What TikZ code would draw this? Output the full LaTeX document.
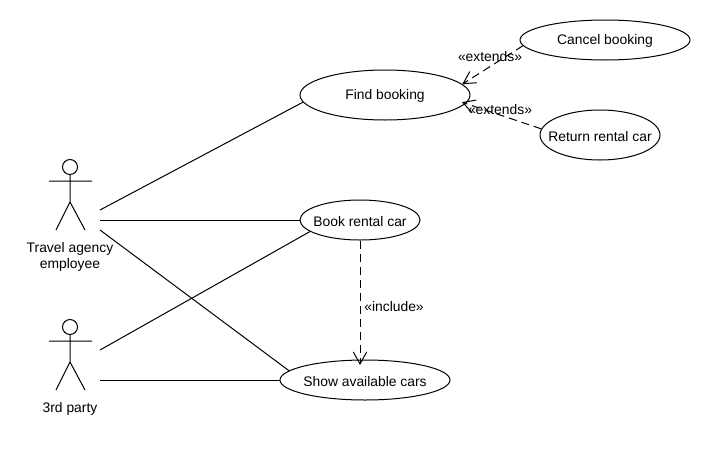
\documentclass[tikz,border=0pt]{standalone}
\usepackage{amssymb}
\usepackage{amsmath}
\usepackage{fontspec}
\setmainfont{Liberation Sans}
\usetikzlibrary{arrows.meta,shapes.geometric}

\tikzset{
  usecase/.style={draw,ellipse,inner sep=0pt,line width=0.75pt},
  lbl/.style={inner sep=0pt,align=center,yshift=-1pt,font=\fontsize{10.4}{12}\selectfont},
  assoc/.style={line width=0.75pt},
  depend/.style={line width=0.75pt,dash pattern=on 6pt off 3.75pt,-{Straight Barb[length=9pt,width=10pt,line width=0.75pt]}}
}

\begin{document}
\begin{tikzpicture}[x=0.75pt,y=0.75pt,yscale=-1,xscale=1]
\useasboundingbox (0,0) rectangle (710,450);

%Shape: Use cases
\node[usecase,minimum width=127.5pt,minimum height=37.5pt,label={[lbl]center:Find booking}] (find) at (385,95) {};
\node[usecase,minimum width=127.5pt,minimum height=30pt,label={[lbl]center:Cancel booking}] (cancel) at (605,40) {};
\node[usecase,minimum width=90pt,minimum height=37.5pt,label={[lbl]center:Return rental car}] (return) at (600,135) {};
\node[usecase,minimum width=90pt,minimum height=30pt,label={[lbl]center:Book rental car}] (book) at (360,220) {};
\node[usecase,minimum width=127.5pt,minimum height=30pt,label={[lbl]center:Show available cars}] (show) at (365,380) {};

%Shape: Actor employee
\draw[assoc] (70,167) circle (7.5);
\draw[assoc] (49,181) -- (92,181) (70,175) -- (70,202) (56,230) -- (70,202) -- (85,230);
\node[lbl] (employee) at (70,256) {Travel agency\\employee};

%Shape: Actor third party
\draw[assoc] (70,327) circle (7.5);
\draw[assoc] (49,341) -- (92,341) (70,335) -- (70,362) (56,390) -- (70,362) -- (85,390);
\node[lbl] (party) at (70,408) {3rd party};

%Free ends next to the actors
\coordinate (emp_a) at (100,210);
\coordinate (emp_b) at (100,220);
\coordinate (emp_c) at (100,230);
\coordinate (party_a) at (100,350);
\coordinate (party_b) at (100,380);
\coordinate (show_in) at (360,365);

%Lines
\draw[assoc] (emp_a) -- (find.185);
\draw[assoc] (emp_b) -- (book.west);
\draw[assoc] (emp_c) -- (show.173);
\draw[assoc] (party_a) -- (book.193);
\draw[assoc] (party_b) -- (show.west);

%Dependencies
\draw[depend] (cancel.184) -- (find.8);
\draw[depend,shorten >=-3pt] (return.174) -- (find.-6);
\draw[depend] (book.south) -- (show_in);

%Labels
\node[lbl] (ext_a) at (490,55) {«extends»};
\node[lbl] (ext_b) at (500,108) {«extends»};
\node[lbl] (incl) at (394,305) {«include»};

\end{tikzpicture}
\end{document}
